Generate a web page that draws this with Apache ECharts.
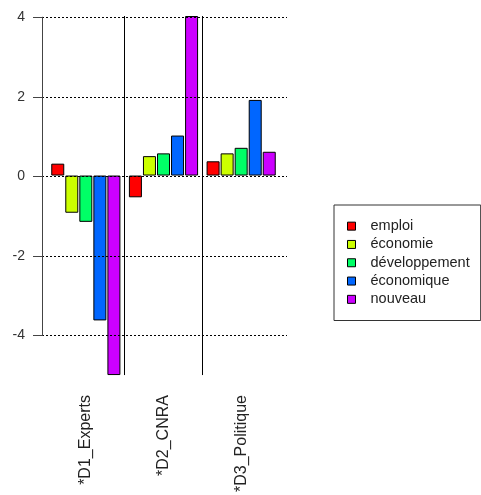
<!DOCTYPE html>
<html>
<head>
<meta charset="utf-8">
<script src="https://cdn.jsdelivr.net/npm/echarts@6/dist/echarts.min.js"></script>
<style>html,body{margin:0;padding:0;background:#fff;}#c{width:481px;height:495px;}</style>
</head>
<body>
<div id="c"></div>
<script>
const categories = ['*D1_Experts', '*D2_CNRA', '*D3_Politique'];
const seriesNames = ['emploi', 'économie', 'développement', 'économique', 'nouveau'];
const emploi = [0.30, -0.55, 0.36];
const economie = [-0.94, 0.49, 0.56];
const developpement = [-1.17, 0.56, 0.70];
const economique = [-3.66, 1.01, 1.91];
const nouveau = [-5.04, 4.03, 0.60];
const yTicks = [-4, -2, 0, 2, 4];
const colors = ['#FF0000', '#CCFF00', '#00FF66', '#0066FF', '#CC00FF'];

const allSeries = [emploi, economie, developpement, economique, nouveau];
const flat = allSeries.flat();
const yMin = Math.min(...flat), yMax = Math.max(...flat);

const G_TOP = 16, G_H = 361, G_LEFT = 47, G_W = 233;
const pxPerUnit = G_H / (yMax - yMin);
const axTop = G_TOP + (yMax - yTicks[yTicks.length - 1]) * pxPerUnit;
const axBot = G_TOP + (yMax - yTicks[0]) * pxPerUnit;

const chart = echarts.init(document.getElementById('c'), null, {renderer: 'canvas'});
const font = 'Liberation Sans, Arial, sans-serif';

chart.setOption({
  animation: false,
  backgroundColor: '#fff',
  grid: [
    {left: G_LEFT, top: G_TOP, width: G_W, height: G_H},
    {left: 42, top: axTop, width: 245, height: axBot - axTop}
  ],
  xAxis: [
    {type: 'category', gridIndex: 0, data: categories,
     axisLine: {show: false, onZero: false}, axisTick: {show: false},
     axisLabel: {rotate: 90, margin: 20, fontSize: 16, fontFamily: font, color: '#222', padding: [5, 0, 0, 0]},
     splitLine: {show: false}},
    {type: 'value', gridIndex: 0, min: 0, max: categories.length, interval: 1, position: 'top',
     axisLine: {show: false}, axisTick: {show: false}, axisLabel: {show: false},
     splitLine: {show: true, showMinLine: false, showMaxLine: false, lineStyle: {color: '#000', width: 1}}},
    {type: 'value', gridIndex: 1, min: 0, max: 1, show: false}
  ],
  yAxis: [
    {type: 'value', gridIndex: 0, min: yMin, max: yMax, show: false, splitLine: {show: false}},
    {type: 'value', gridIndex: 1, min: yTicks[0], max: yTicks[yTicks.length - 1], interval: 2, z: 10,
     axisLine: {show: true, lineStyle: {color: '#444', width: 1}},
     axisTick: {show: true, length: 9, lineStyle: {color: '#444', width: 1}},
     axisLabel: {margin: 17, fontSize: 14, fontFamily: font, color: '#333'},
     splitLine: {show: true, lineStyle: {color: '#000', width: 1, type: [2, 2]}}}
  ],
  legend: {
    orient: 'vertical', left: 334, top: 205,
    data: seriesNames,
    icon: 'rect', itemWidth: 8, itemHeight: 8, itemGap: 0,
    padding: [12, 11, 12, 13],
    borderColor: '#333', borderWidth: 1,
    textStyle: {fontSize: 14.5, fontFamily: font, color: '#222', lineHeight: 18.3, padding: [0, 0, 0, 10]},
    itemStyle: {borderColor: '#000', borderWidth: 1}
  },
  series: allSeries.map((d, i) => ({
    name: seriesNames[i], type: 'bar', xAxisIndex: 0, yAxisIndex: 0,
    data: d, barWidth: 13, barGap: '8%',
    itemStyle: {color: colors[i], borderColor: '#000', borderWidth: 1}
  }))
});
</script>
</body>
</html>
